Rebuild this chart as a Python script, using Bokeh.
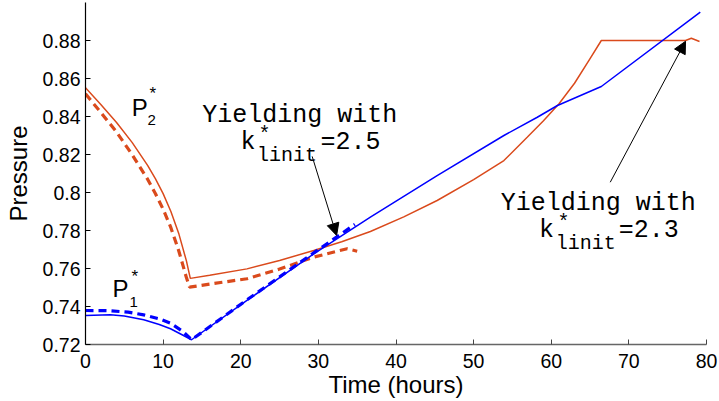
from bokeh.plotting import figure
from bokeh.models import Range1d, FixedTicker, Label, Arrow, NormalHead
from bokeh.embed import file_html
from bokeh.resources import INLINE

# ---- data ----
# P2* solid (red)
t_p2_solid = [0, 2, 4, 6, 8, 9, 10, 11, 12, 13, 13.5,
              16, 20.8, 25, 29.4, 33, 36.7, 41, 45.3, 50, 53.9, 56.9,
              59, 61, 63, 65, 66.45, 70, 74, 77.3, 78.05, 79.1]
p2_solid = [0.8551, 0.8462, 0.8368, 0.8264, 0.8143, 0.8073, 0.7994, 0.7900, 0.7786, 0.7640, 0.7548,
            0.7564, 0.7598, 0.7642, 0.7695, 0.7741, 0.7795, 0.7872, 0.7958, 0.8068, 0.8168, 0.8291,
            0.8378, 0.8467, 0.8575, 0.8705, 0.8800, 0.8800, 0.8800, 0.8800, 0.8812, 0.8795]

# P2* dashed (red)
t_p2_dash = [0, 2, 4, 6, 8, 9, 10, 11, 12, 12.6, 13.0, 13.4, 16, 20.8, 25, 29.4, 33.7, 35.0]
p2_dash = [0.8519, 0.8420, 0.8318, 0.8200, 0.8070, 0.7995, 0.7912, 0.7815, 0.7695, 0.7610,
           0.7552, 0.7502, 0.7518, 0.7546, 0.7597, 0.7660, 0.7704, 0.7691]

# P1* solid (blue)
t_p1_solid = [0, 3.2, 5, 7.5, 9.5, 10.95, 12.5, 13.66, 20.8, 29.4, 36.7, 45.3,
              53.9, 58.2, 60.8, 66.45, 79.2]
p1_solid = [0.7353, 0.7356, 0.7350, 0.7330, 0.7305, 0.7283, 0.7250, 0.7225, 0.7432, 0.7677,
            0.7870, 0.8089, 0.8300, 0.8396, 0.8458, 0.8558, 0.8949]

# P1* dashed (blue)
t_p1_dash = [0, 3, 5.5, 7.5, 9.5, 10.95, 12.5, 13.5, 13.7, 20.8, 29.4, 34.7]
p1_dash = [0.7379, 0.7378, 0.7370, 0.7356, 0.7335, 0.7312, 0.7270, 0.7232, 0.7226,
           0.7435, 0.7682, 0.7832]

x_ticks = [0, 10, 20, 30, 40, 50, 60, 70, 80]
x_tick_labels = ["0", "10", "20", "30", "40", "50", "60", "70", "80"]
y_ticks = [0.72, 0.74, 0.76, 0.78, 0.8, 0.82, 0.84, 0.86, 0.88]
y_tick_labels = ["0.72", "0.74", "0.76", "0.78", "0.8", "0.82", "0.84", "0.86", "0.88"]

# annotation arrows: (tail t, tail P, head t, head P)
arrow_k25 = [29.2, 0.819, 32.35, 0.7774]
arrow_k23 = [67.6, 0.8054, 77.3, 0.8796]

RED = "#DA4A1C"
BLUE = "#0000FF"
SANS = "Liberation Sans"
MONO = "Liberation Mono"

p = figure(width=719, height=401, x_range=Range1d(0, 80), y_range=Range1d(0.72, 0.9),
           output_backend="svg", toolbar_location=None,
           min_border_left=85, min_border_right=13, min_border_top=2, min_border_bottom=57)
p.outline_line_color = None
p.grid.visible = False
p.background_fill_color = "white"
p.border_fill_color = "white"

p.line(t_p2_solid, p2_solid, line_color=RED, line_width=1.5)
p.line(t_p2_dash, p2_dash, line_color=RED, line_width=3.2, line_dash="8 5")
p.line(t_p1_solid, p1_solid, line_color=BLUE, line_width=1.5)
p.line(t_p1_dash, p1_dash, line_color=BLUE, line_width=3.2, line_dash="8 5")

for ax in (p.xaxis[0], p.yaxis[0]):
    ax.major_tick_in = 5
    ax.major_tick_out = 0
    ax.minor_tick_line_color = None
    ax.major_label_text_font = SANS
    ax.major_label_text_font_size = "19.5px"
    ax.major_label_text_color = "black"
    ax.axis_label_text_font = SANS
    ax.axis_label_text_font_size = "24px"
    ax.axis_label_text_font_style = "normal"
    ax.axis_label_text_color = "black"

p.xaxis.ticker = FixedTicker(ticks=x_ticks)
p.xaxis.major_label_overrides = dict(zip(x_ticks, x_tick_labels))
p.yaxis.ticker = FixedTicker(ticks=y_ticks)
p.yaxis.major_label_overrides = dict(zip(y_ticks, y_tick_labels))

p.xaxis.axis_label = "Time (hours)"
p.yaxis.axis_label = "Pressure"
p.xaxis.major_label_standoff = 9
p.xaxis.axis_label_standoff = 0
p.yaxis.major_label_standoff = 5
p.yaxis.axis_label_standoff = 8
p.xaxis.axis_line_color = "#666666"
p.xaxis.axis_line_width = 1.6
p.xaxis.major_tick_line_color = "#444444"
p.yaxis.axis_line_color = "black"
p.yaxis.axis_line_width = 1.2


def lab(x, y, text, font, size):
    p.add_layout(Label(x=x, y=y, text=text, text_font=font, text_font_size=size,
                       text_color="black", text_baseline="alphabetic", text_align="left"))


# P labels
lab(5.96, 0.8449, "P", SANS, "24px")
lab(7.99, 0.8383, "2", SANS, "15px")
lab(8.25, 0.8520, "*", SANS, "17px")
lab(3.48, 0.7493, "P", SANS, "24px")
lab(5.67, 0.7423, "1", SANS, "15px")
lab(5.93, 0.7559, "*", SANS, "17px")

# yielding annotations
lab(15.04, 0.8405, "Yielding with", MONO, "25px")
lab(19.97, 0.8265, "k", MONO, "25px")
lab(22.3, 0.8305, "*", MONO, "20px")
lab(22.1, 0.8195, "linit", MONO, "20px")
lab(30.28, 0.8265, "=2.5", MONO, "25px")

lab(53.48, 0.7941, "Yielding with", MONO, "25px")
lab(58.42, 0.7800, "k", MONO, "25px")
lab(60.82, 0.7842, "*", MONO, "20px")
lab(60.57, 0.7730, "linit", MONO, "20px")
lab(68.69, 0.7800, "=2.3", MONO, "25px")

for a in (arrow_k25, arrow_k23):
    p.add_layout(Arrow(x_start=a[0], y_start=a[1], x_end=a[2], y_end=a[3],
                       line_color="black", line_width=1,
                       end=NormalHead(size=12, fill_color="black", line_color="black")))

open("out.html", "w").write(file_html(p, INLINE))
